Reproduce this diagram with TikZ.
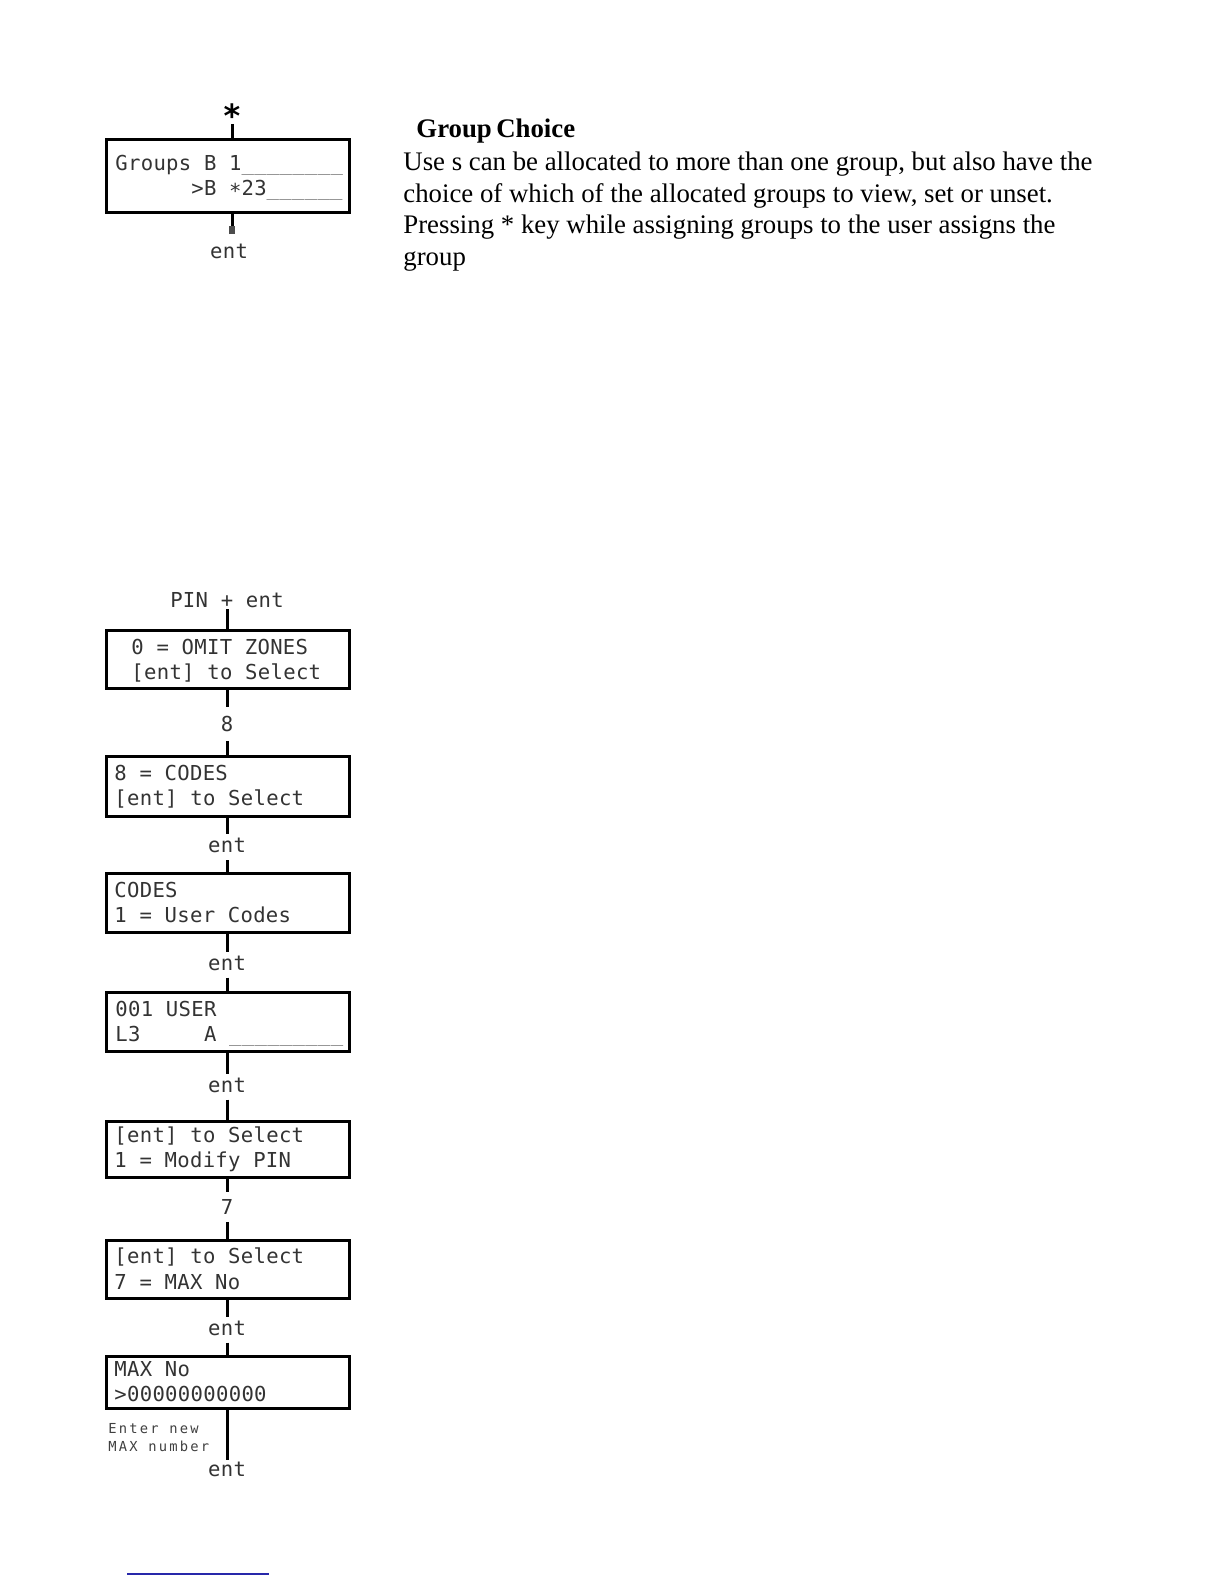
\documentclass[tikz,border=0pt]{standalone}
\usepackage{fontspec}
\setmainfont{Liberation Serif}
\newfontfamily\lcdfont{DejaVu Sans Mono}[LetterSpace=1.5]
\newfontfamily\lcdsmallfont{DejaVu Sans Mono}[LetterSpace=16]
\newfontfamily\starfont{DejaVu Sans Mono}
\tikzset{
  lcdbox/.style={draw, rectangle, line width=1.5pt, minimum width=121.5pt, inner sep=0pt, outer sep=0pt},
  lcdtxt/.style={anchor=base west, inner sep=0pt, text=black!80, font=\lcdfont\fontsize{10.3}{12}\selectfont},
  smalltxt/.style={anchor=base west, inner sep=0pt, text=black!75, font=\lcdsmallfont\fontsize{6.9}{8}\selectfont},
  entlab/.style={inner xsep=0pt, inner ysep=3.5pt, text height=5.6pt, text depth=0pt, text=black!80, font=\lcdfont\fontsize{10.3}{12}\selectfont},
  diglab/.style={inner xsep=0pt, inner ysep=4pt, text height=7.5pt, text depth=0pt, text=black!80, font=\lcdfont\fontsize{10.3}{12}\selectfont},
  conn/.style={line width=1.5pt},
  bodytxt/.style={anchor=base west, inner sep=0pt, font=\fontsize{13.4}{15.5}\selectfont},
}
\newcommand{\usc}[1]{\textcolor{black!50}{#1}}
\begin{document}
\begin{tikzpicture}[x=0.5pt,y=-0.5pt]
\useasboundingbox (0,0) rectangle (1224,1584);

% ---------- top group diagram ----------
\node[anchor=base, inner sep=0pt, font=\starfont\bfseries\fontsize{16}{16}\selectfont] (star) at (232,127) {*};
\coordinate (stubtop) at (232,124);
\node[lcdbox, minimum height=36.5pt] (top) at (228,176) {};
\draw[conn] (stubtop) -- (stubtop |- top.north);
\node[lcdtxt] (topt1) at (115,170) {Groups B 1\usc{\_\_\_\_\_\_\_\_}};
\node[lcdtxt] (topt2) at (115,195) {\phantom{Groups}>B \raisebox{-0.3ex}{*}23\usc{\_\_\_\_\_\_}};
\coordinate (stubbot) at (232,234);
\draw[conn] (stubbot |- top.south) -- (stubbot);
\draw[line width=2.6pt, black!70] (stubbot) -- ++(0,-8);
\node[entlab] (topent) at (229,253) {ent};

% ---------- right text ----------
\node[bodytxt, font=\bfseries\fontsize{13.4}{15.5}\selectfont] (head) at (416,138) {Group\,Choice};
\node[bodytxt] (p1) at (403,170) {Use s can be allocated to more than one group, but also have the};
\node[bodytxt] (p2) at (403,202) {choice of which of the allocated groups to view, set or unset.};
\node[bodytxt] (p3) at (403,233) {Pressing * key while assigning groups to the user assigns the};
\node[bodytxt] (p4) at (403,265) {group};

% ---------- lower flow ----------
\node[diglab, inner ysep=0.8pt] (pin) at (227,599.5) {PIN + ent};
\node[lcdbox, minimum height=29pt] (b1) at (228,659.5) {};
\node[lcdtxt] (b1t1) at (131,654.5) {0 = OMIT ZONES};
\node[lcdtxt] (b1t2) at (131,679.5) {[ent] to Select};

\node[diglab, inner ysep=4.5pt] (l8) at (227,724) {8};

\node[lcdbox, minimum height=30pt] (b2) at (228,786.5) {};
\node[lcdtxt] (b2t1) at (114,780.5) {8 = CODES};
\node[lcdtxt] (b2t2) at (114,805.5) {[ent] to Select};

\node[entlab] (e2) at (227,847) {ent};

\node[lcdbox, minimum height=29.5pt] (b3) at (228,903) {};
\node[lcdtxt] (b3t1) at (114,897) {CODES};
\node[lcdtxt] (b3t2) at (114,922) {1 = User Codes};

\node[entlab] (e3) at (227,964.5) {ent};

\node[lcdbox, minimum height=29.5pt] (b4) at (228,1022) {};
\node[lcdtxt] (b4t1) at (115,1016) {001 USER};
\node[lcdtxt] (b4t2) at (115,1041) {L3\ \ \ \ \ A\ \usc{\_\_\_\_\_\_\_\_\_}};

\node[entlab] (e4) at (227,1086.5) {ent};

\node[lcdbox, minimum height=28pt] (b5) at (228,1149.5) {};
\node[lcdtxt] (b5t1) at (114,1142) {[ent] to Select};
\node[lcdtxt] (b5t2) at (114,1167) {1 = Modify PIN};

\node[diglab, inner ysep=3.5pt] (l7) at (227,1207) {7};

\node[lcdbox, minimum height=29pt] (b6) at (228,1269.5) {};
\node[lcdtxt] (b6t1) at (114,1263) {[ent] to Select};
\node[lcdtxt] (b6t2) at (114,1289) {7 = MAX No};

\node[entlab] (e6) at (227,1329.5) {ent};

\node[lcdbox, minimum height=26pt] (b7) at (228,1382.5) {};
\node[lcdtxt] (b7t1) at (114,1376) {MAX No};
\node[lcdtxt] (b7t2) at (114,1401) {>00000000000};

\node[smalltxt] (hint1) at (108,1433) {Enter new};
\node[smalltxt] (hint2) at (108,1451) {MAX number};

\node[entlab, inner ysep=2.5pt] (e7) at (227,1470.5) {ent};

% connectors
\draw[conn] (pin.south) -- (pin.south |- b1.north);
\draw[conn] (l8.north |- b1.south) -- (l8.north);
\draw[conn] (l8.south) -- (l8.south |- b2.north);
\draw[conn] (e2.north |- b2.south) -- (e2.north);
\draw[conn] (e2.south) -- (e2.south |- b3.north);
\draw[conn] (e3.north |- b3.south) -- (e3.north);
\draw[conn] (e3.south) -- (e3.south |- b4.north);
\draw[conn] (e4.north |- b4.south) -- (e4.north);
\draw[conn] (e4.south) -- (e4.south |- b5.north);
\draw[conn] (l7.north |- b5.south) -- (l7.north);
\draw[conn] (l7.south) -- (l7.south |- b6.north);
\draw[conn] (e6.north |- b6.south) -- (e6.north);
\draw[conn] (e6.south) -- (e6.south |- b7.north);
\draw[conn] (e7.north |- b7.south) -- (e7.north);

% bottom blue rule
\coordinate (u1) at (127,1574);
\coordinate (u2) at (269,1574);
\draw[line width=0.75pt, color={rgb,255:red,40;green,40;blue,170}] (u1) -- (u2);
\end{tikzpicture}
\end{document}
